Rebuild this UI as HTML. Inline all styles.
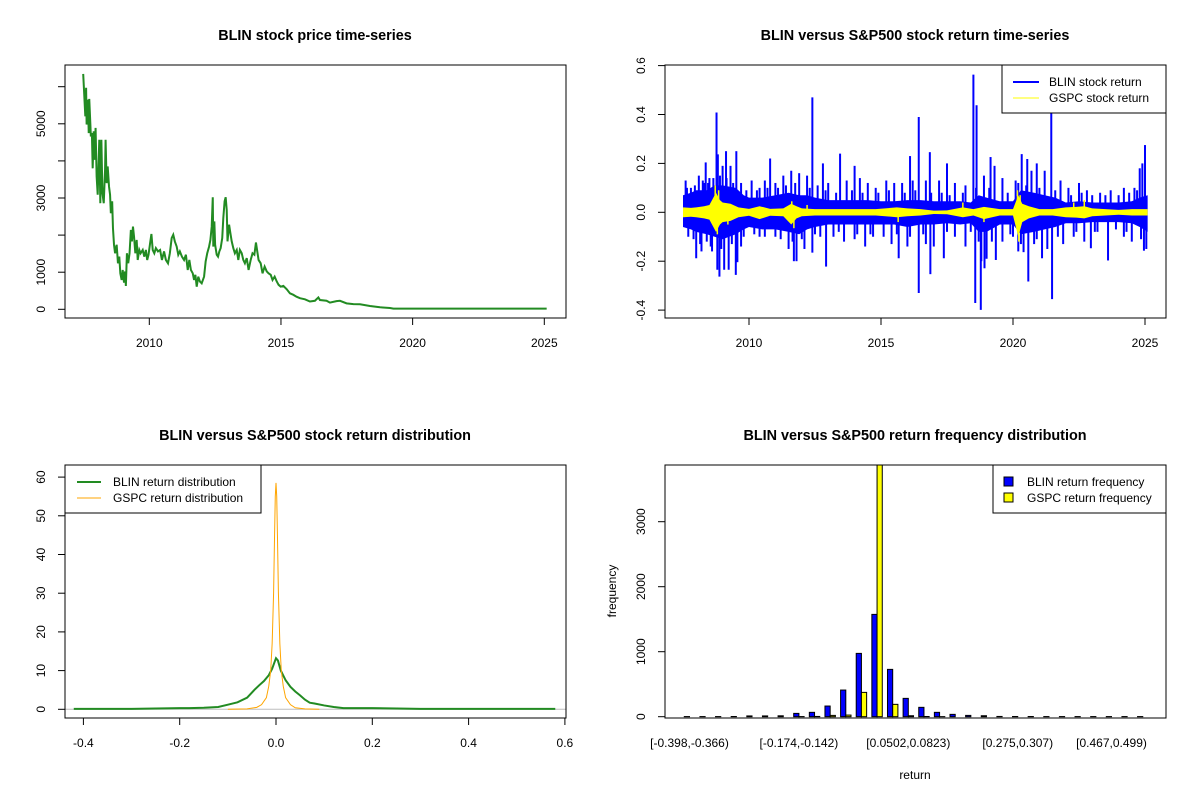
<!DOCTYPE html>
<html><head><meta charset="utf-8"><title>BLIN vs S&amp;P500</title>
<style>
html,body{margin:0;padding:0;background:#fff;}
svg{display:block;font-family:"Liberation Sans",Arial,sans-serif;}
</style></head>
<body>
<svg id="chart" width="1200" height="800" viewBox="0 0 1200 800" xmlns="http://www.w3.org/2000/svg">
<defs>
<clipPath id="clip1"><rect x="65" y="65" width="501" height="253"/></clipPath>
<clipPath id="clip2"><rect x="665" y="65" width="501" height="253"/></clipPath>
<clipPath id="clip3"><rect x="65" y="465" width="501" height="253"/></clipPath>
<clipPath id="clip4"><rect x="665" y="465" width="501" height="253"/></clipPath>
</defs>
<rect width="1200" height="800" fill="#fff"/>
<text x="315" y="40" text-anchor="middle" font-size="14.4" font-weight="bold">BLIN stock price time-series</text>
<text x="915" y="40" text-anchor="middle" font-size="14.4" font-weight="bold">BLIN versus S&amp;P500 stock return time-series</text>
<text x="315" y="440" text-anchor="middle" font-size="14.4" font-weight="bold">BLIN versus S&amp;P500 stock return distribution</text>
<text x="915" y="440" text-anchor="middle" font-size="14.4" font-weight="bold">BLIN versus S&amp;P500 return frequency distribution</text>
<g id="p1"></g>
<g id="p2"></g>
<g id="p3"></g>
<g id="p4"></g>
</svg>
<script>
// ---------- Panel 1 data: BLIN price ----------
const priceYears = [2007.49,2007.52,2007.57,2007.6,2007.62,2007.67,2007.7,2007.72,2007.76,2007.78,2007.82,2007.85,2007.89,2007.92,2007.96,2008.0,2008.04,2008.1,2008.14,2008.18,2008.22,2008.27,2008.32,2008.34,2008.38,2008.42,2008.47,2008.51,2008.54,2008.59,2008.62,2008.66,2008.7,2008.76,2008.81,2008.86,2008.9,2008.95,2008.99,2009.04,2009.08,2009.11,2009.15,2009.2,2009.25,2009.3,2009.34,2009.38,2009.42,2009.47,2009.52,2009.56,2009.62,2009.67,2009.75,2009.81,2009.87,2009.92,2009.97,2010.03,2010.08,2010.13,2010.19,2010.25,2010.33,2010.41,2010.48,2010.56,2010.63,2010.71,2010.78,2010.85,2010.91,2010.97,2011.04,2011.1,2011.16,2011.24,2011.32,2011.39,2011.46,2011.52,2011.58,2011.65,2011.7,2011.75,2011.8,2011.86,2011.92,2011.99,2012.08,2012.14,2012.2,2012.27,2012.32,2012.37,2012.41,2012.43,2012.47,2012.5,2012.56,2012.61,2012.66,2012.71,2012.77,2012.81,2012.86,2012.9,2012.94,2012.97,2013.03,2013.08,2013.13,2013.19,2013.25,2013.32,2013.38,2013.44,2013.51,2013.57,2013.63,2013.7,2013.77,2013.85,2013.92,2013.99,2014.05,2014.1,2014.15,2014.23,2014.3,2014.38,2014.46,2014.53,2014.61,2014.68,2014.76,2014.84,2014.91,2014.99,2015.09,2015.22,2015.34,2015.47,2015.59,2015.72,2015.91,2016.1,2016.29,2016.42,2016.48,2016.73,2016.86,2017.11,2017.24,2017.49,2017.75,2018.0,2018.38,2018.76,2019.14,2019.27,2020.53,2025.09];
const priceValues = [6345,5920,5200,5970,4980,5650,4750,5670,5020,4660,4750,3800,4800,4030,4890,3580,3090,4570,2860,4570,3130,2860,3760,4570,3400,3850,3310,3090,2590,2910,2190,1740,1510,1740,1240,1420,970,790,1060,720,1020,630,1510,1240,1510,2140,1830,2230,1960,1510,1870,1330,1600,1510,1600,1420,1600,1330,1470,1780,2030,1600,1510,1650,1560,1600,1330,1560,1330,1240,1510,1920,2010,1830,1690,1470,1560,1420,1330,1470,1060,1330,1060,970,790,930,610,880,750,700,880,1290,1510,1690,1870,2230,3020,1690,2370,1740,1470,1420,1560,1650,1920,2460,2910,3020,2680,1830,2280,2050,1830,1650,1510,1600,1330,1600,1510,1330,1240,1380,1060,1330,1510,1470,1800,1560,1330,1240,970,1150,1020,970,930,790,880,750,660,610,630,540,430,390,340,300,270,210,230,320,250,230,180,220,230,160,140,135,90,55,36,18,18,18];
const priceTicks = [0,1000,2000,3000,4000,5000,6000];
const priceTickLabels = ["0","1000","","3000","","5000",""];
const yearTicks = [2010,2015,2020,2025];
const yearTickLabels = ["2010","2015","2020","2025"];

// ---------- Panel 2 data: returns ----------
const blinCoreYears = [2007.5,2007.8,2008.0,2008.4,2008.7,2009.0,2009.5,2009.8,2010.0,2010.5,2011.0,2011.5,2011.9,2012.2,2012.5,2013.0,2013.5,2014.0,2014.5,2015.0,2015.5,2016.0,2016.5,2017.0,2017.5,2018.0,2018.4,2018.7,2019.0,2019.5,2020.0,2020.3,2020.8,2021.2,2021.6,2022.0,2022.5,2023.0,2023.5,2024.0,2024.5,2024.8,2025.1];
const blinCoreUpper = [0.07,0.08,0.09,0.09,0.11,0.11,0.1,0.07,0.06,0.06,0.07,0.08,0.07,0.07,0.06,0.05,0.05,0.05,0.05,0.045,0.045,0.05,0.05,0.045,0.045,0.045,0.04,0.07,0.06,0.045,0.045,0.09,0.08,0.07,0.06,0.04,0.045,0.04,0.04,0.04,0.045,0.06,0.07];
const blinCoreLower = [-0.06,-0.07,-0.08,-0.09,-0.1,-0.11,-0.09,-0.07,-0.06,-0.07,-0.07,-0.08,-0.09,-0.07,-0.06,-0.05,-0.05,-0.05,-0.05,-0.05,-0.05,-0.06,-0.05,-0.05,-0.045,-0.05,-0.045,-0.08,-0.08,-0.05,-0.05,-0.09,-0.08,-0.07,-0.06,-0.045,-0.045,-0.04,-0.04,-0.04,-0.045,-0.06,-0.08];
const blinSpikeYears = [2008.77,2008.82,2009.13,2009.52,2008.36,2010.8,2012.4,2012.8,2013.45,2014.0,2016.1,2016.43,2016.85,2017.5,2018.5,2018.62,2019.15,2020.33,2020.54,2021.45,2025.0,2024.9,
2007.6,2007.8,2008.1,2008.3,2008.5,2008.65,2009.0,2009.3,2009.7,2010.1,2010.4,2010.6,2011.0,2011.3,2011.6,2011.9,2012.2,2012.6,2013.0,2013.7,2014.2,2014.5,2014.8,2015.2,2015.5,2015.8,2016.2,2016.7,2017.2,2017.8,2018.2,2018.9,2019.3,2019.6,2020.1,2020.7,2020.9,2021.2,2021.8,2022.1,2022.5,2022.8,2023.3,2023.7,2024.2,2024.6,2024.8,
2008.88,2008.8,2009.06,2009.23,2009.5,2009.56,2008.0,2011.7,2012.4,2012.92,2015.67,2016.43,2016.87,2017.38,2018.57,2018.78,2018.92,2019.35,2020.58,2020.4,2021.1,2021.48,2022.95,2023.6,2024.96,
2007.7,2008.2,2008.4,2008.6,2009.7,2010.2,2010.6,2011.2,2011.5,2011.8,2012.1,2012.7,2013.2,2013.6,2014.0,2014.4,2014.7,2015.1,2015.4,2016.0,2016.7,2017.0,2017.8,2018.2,2018.8,2019.0,2019.6,2020.0,2020.2,2020.8,2021.3,2021.9,2022.3,2022.7,2023.2,2024.2,2024.5,2025.05,
2007.65,2007.95,2008.25,2008.45,2008.9,2009.15,2009.4,2009.9,2010.3,2010.7,2011.1,2011.4,2011.75,2012.3,2012.9,2013.3,2013.9,2014.3,2014.9,2015.3,2015.9,2016.3,2016.9,2017.3,2017.6,2018.1,2018.6,2019.1,2019.8,2020.2,2020.5,2021.0,2021.6,2022.2,2022.6,2023.0,2023.5,2024.0,2024.4,2024.7,
2007.9,2008.15,2008.55,2008.95,2009.35,2009.8,2010.4,2011.0,2011.65,2012.0,2012.5,2013.4,2014.1,2014.6,2015.6,2016.1,2016.6,2017.5,2018.4,2018.7,2019.2,2019.9,2020.3,2020.9,2021.7,2022.4,2023.1,2023.9,2024.3,2024.85];
const blinSpikeValues = [0.408,0.237,0.25,0.25,0.204,0.22,0.47,0.2,0.24,0.19,0.23,0.39,0.246,0.2,0.563,0.438,0.226,0.238,0.218,0.41,0.275,0.2,
0.13,0.1,0.15,0.12,0.14,0.14,0.19,0.19,0.12,0.13,0.1,0.13,0.12,0.15,0.17,0.16,0.15,0.11,0.12,0.13,0.14,0.12,0.1,0.13,0.12,0.12,0.13,0.13,0.13,0.12,0.11,0.15,0.19,0.14,0.13,0.17,0.2,0.17,0.13,0.1,0.12,0.09,0.08,0.09,0.1,0.1,0.18,
-0.263,-0.235,-0.235,-0.235,-0.256,-0.204,-0.188,-0.2,-0.165,-0.222,-0.188,-0.33,-0.253,-0.188,-0.371,-0.399,-0.229,-0.195,-0.283,-0.163,-0.188,-0.355,-0.147,-0.197,-0.157,
-0.1,-0.16,-0.12,-0.16,-0.14,-0.09,-0.1,-0.11,-0.15,-0.2,-0.15,-0.1,-0.1,-0.12,-0.11,-0.14,-0.1,-0.1,-0.13,-0.14,-0.13,-0.14,-0.1,-0.14,-0.2,-0.19,-0.12,-0.1,-0.16,-0.13,-0.15,-0.13,-0.1,-0.12,-0.08,-0.1,-0.12,-0.15,
0.1,0.11,0.13,0.12,0.15,0.14,0.12,0.09,0.09,0.1,0.1,0.11,0.12,0.1,0.09,0.08,0.09,0.08,0.08,0.09,0.08,0.09,0.08,0.08,0.07,0.08,0.1,0.1,0.08,0.12,0.11,0.1,0.09,0.07,0.08,0.07,0.07,0.07,0.08,0.09,
-0.11,-0.13,-0.14,-0.15,-0.13,-0.1,-0.1,-0.1,-0.12,-0.11,-0.09,-0.08,-0.09,-0.09,-0.09,-0.1,-0.09,-0.08,-0.08,-0.12,-0.12,-0.09,-0.13,-0.11,-0.1,-0.08,-0.08,-0.07,-0.08,-0.11];
const gspcYears = [2007.5,2007.8,2008.0,2008.3,2008.5,2008.75,2008.9,2009.0,2009.3,2009.6,2010.0,2010.4,2010.8,2011.3,2011.6,2011.8,2012.0,2012.5,2013.0,2014.0,2014.8,2015.6,2016.0,2016.5,2017.0,2017.5,2018.1,2018.5,2018.9,2019.5,2020.0,2020.2,2020.35,2020.6,2021.0,2021.5,2022.0,2022.4,2022.7,2023.0,2023.5,2024.0,2024.5,2025.1];
const gspcUpper = [0.02,0.018,0.02,0.025,0.03,0.08,0.05,0.04,0.035,0.02,0.014,0.025,0.014,0.016,0.035,0.025,0.016,0.013,0.013,0.013,0.013,0.02,0.016,0.013,0.007,0.008,0.02,0.013,0.022,0.013,0.013,0.07,0.035,0.025,0.013,0.013,0.02,0.022,0.025,0.016,0.013,0.01,0.013,0.013];
const gspcLower = [-0.02,-0.018,-0.02,-0.025,-0.03,-0.08,-0.05,-0.04,-0.035,-0.02,-0.014,-0.028,-0.014,-0.016,-0.05,-0.025,-0.016,-0.013,-0.013,-0.013,-0.013,-0.02,-0.016,-0.013,-0.007,-0.008,-0.02,-0.013,-0.028,-0.013,-0.013,-0.1,-0.04,-0.025,-0.013,-0.013,-0.02,-0.022,-0.025,-0.016,-0.013,-0.01,-0.013,-0.013];
const gspcSpikeYears = [2008.72,2008.8,2008.85,2009.2,2011.62,2011.7,2012.2,2015.65,2018.1,2018.9,2020.17,2020.22,2020.27,2022.3,2022.7];
const gspcSpikeValues = [0.11,-0.09,0.09,-0.05,0.045,-0.065,0.03,-0.04,0.04,-0.04,0.09,-0.12,0.07,0.04,0.05];
const returnTicks = [-0.4,-0.2,0,0.2,0.4,0.6];
const returnTickLabels = ["-0.4","-0.2","0.0","0.2","0.4","0.6"];

// ---------- Panel 3 data: densities ----------
const blinDensX = [-0.42,-0.3,-0.2,-0.18,-0.15,-0.12,-0.1,-0.08,-0.06,-0.045,-0.035,-0.025,-0.015,-0.008,-0.003,0,0.004,0.01,0.02,0.03,0.04,0.05,0.06,0.07,0.08,0.1,0.12,0.14,0.2,0.3,0.58];
const blinDensY = [0.1,0.1,0.3,0.3,0.4,0.6,1.2,1.8,3.0,5.0,6.2,7.3,8.8,10.5,12.2,13.2,12.6,10.0,7.5,5.8,4.6,3.6,2.5,1.7,1.5,1.0,0.6,0.3,0.3,0.1,0.1];
const gspcDensX = [-0.1,-0.06,-0.04,-0.03,-0.02,-0.015,-0.011,-0.008,-0.005,-0.003,-0.0015,0,0.0015,0.003,0.005,0.008,0.011,0.015,0.02,0.03,0.04,0.06,0.09];
const gspcDensY = [0,0.1,0.5,1.2,3,6,10,17,30,45,55,58.5,55,45,30,17,10,6,3,1.2,0.4,0.1,0];
const densXTicks = [-0.4,-0.2,0,0.2,0.4,0.6];
const densXTickLabels = ["-0.4","-0.2","0.0","0.2","0.4","0.6"];
const densYTicks = [0,10,20,30,40,50,60];
const densYTickLabels = ["0","10","20","30","40","50","60"];

// ---------- Panel 4 data: histogram ----------
const binEdges = ["-0.398","-0.366","-0.334","-0.302","-0.27","-0.238","-0.206","-0.174","-0.142","-0.11","-0.0779","-0.0459","-0.0138","0.0182","0.0502","0.0823","0.114","0.146","0.178","0.21","0.243","0.275","0.307","0.339","0.371","0.403","0.435","0.467","0.499","0.531","0.563"];
const blinFreq = [2,2,2,3,12,12,14,51,67,164,410,974,1574,728,282,144,67,36,20,15,4,3,3,2,2,2,2,2,2,2];
const gspcFreq = [0,0,0,0,0,0,0,2,4,20,25,374,3900,190,15,3,1,0,0,0,0,0,0,0,0,0,0,0,0,0];
const shownBinLabels = [0,7,14,21,27];
const freqTicks = [0,1000,2000,3000];
const freqTickLabels = ["0","1000","2000","3000"];

const NS = "http://www.w3.org/2000/svg";
function mk(tag, attrs, parent){
  const el = document.createElementNS(NS, tag);
  for (const k in attrs) el.setAttribute(k, attrs[k]);
  parent.appendChild(el);
  return el;
}
function lin(d0,d1,r0,r1){ return v => r0 + (v-d0)*(r1-r0)/(d1-d0); }

function drawBox(g, x0,y0,x1,y1, name){
  const r = mk('rect',{x:x0,y:y0,width:x1-x0,height:y1-y0,fill:'none',stroke:'#000','stroke-width':1},g);
  
  
}
function xAxis(g, ticks, labels, fx, yb, name){
  ticks.forEach((t,i)=>{
    const x = fx(t);
    const tk = mk('line',{x1:x,x2:x,y1:yb,y2:yb+7,stroke:'#000'},g);
    
    
    if (labels[i]) {
      const tx = mk('text',{x:x,y:yb+25,'text-anchor':'middle','dominant-baseline':'central','font-size':12},g);
      tx.textContent = labels[i];
      
      
    }
  });
}
function yAxis(g, ticks, labels, fy, xl, name){
  ticks.forEach((t,i)=>{
    const y = fy(t);
    const tk = mk('line',{x1:xl-7,x2:xl,y1:y,y2:y,stroke:'#000'},g);
    
    
    if (labels[i]) {
      const tx = mk('text',{x:xl-24,y:y,'text-anchor':'middle','dominant-baseline':'central','font-size':12,transform:'rotate(-90 '+(xl-24)+' '+y+')'},g);
      tx.textContent = labels[i];
      
      
    }
  });
}
function pathFrom(xs, ys, fx, fy){
  return xs.map((x,i)=>(i?'L':'M')+fx(x).toFixed(2)+' '+fy(ys[i]).toFixed(2)).join(' ');
}

// ---- Panel 1 ----
(function(){
  const g = document.getElementById('p1');
  const fx = lin(2010,2025,149.3,544.3), fy = lin(0,1000,309.3,272.2);
  const p = mk('path',{d:pathFrom(priceYears,priceValues,fx,fy),fill:'none',stroke:'#228B22','stroke-width':2,'stroke-linejoin':'miter','clip-path':'url(#clip1)'},g);
  
  
  drawBox(g,65,65,566,318,'price-plot-frame');
  xAxis(g, yearTicks, yearTickLabels, fx, 318, 'price-x-axis');
  yAxis(g, priceTicks, priceTickLabels, fy, 65, 'price-y-axis');
})();

// ---- Panel 2 ----
(function(){
  const g = document.getElementById('p2');
  const fx = lin(2010,2025,749,1145), fy = lin(0,0.2,212.3,163.4);
  const cg = mk('g',{'clip-path':'url(#clip2)'},g);
  const core = blinCoreYears.map((y,i)=>fx(y).toFixed(2)+','+fy(blinCoreUpper[i]).toFixed(2))
    .concat(blinCoreYears.slice().reverse().map((y,j)=>{const i=blinCoreYears.length-1-j;return fx(y).toFixed(2)+','+fy(blinCoreLower[i]).toFixed(2);}));
  const poly = mk('polygon',{points:core.join(' '),fill:'#0000FF',stroke:'none'},cg);
  
  
  blinSpikeYears.forEach((yr,i)=>{
    const l = mk('line',{x1:fx(yr),x2:fx(yr),y1:fy(0),y2:fy(blinSpikeValues[i]),stroke:'#0000FF','stroke-width':2},cg);
    
    
  });
  const gp = gspcYears.map((y,i)=>fx(y).toFixed(2)+','+fy(gspcUpper[i]).toFixed(2))
    .concat(gspcYears.slice().reverse().map((y,j)=>{const i=gspcYears.length-1-j;return fx(y).toFixed(2)+','+fy(gspcLower[i]).toFixed(2);}));
  const gpoly = mk('polygon',{points:gp.join(' '),fill:'#FFFF00',stroke:'none'},cg);
  
  
  gspcSpikeYears.forEach((yr,i)=>{
    const l = mk('line',{x1:fx(yr),x2:fx(yr),y1:fy(0),y2:fy(gspcSpikeValues[i]),stroke:'#FFFF00','stroke-width':1.5},cg);
    
    
  });
  drawBox(g,665,65,1166,318,'return-plot-frame');
  xAxis(g, yearTicks, yearTickLabels, fx, 318, 'return-x-axis');
  yAxis(g, returnTicks, returnTickLabels, fy, 665, 'return-y-axis');
  const lg = mk('g',{},g);
  
  
  mk('rect',{x:1002,y:65,width:164,height:48,fill:'#fff',stroke:'#000'},lg);
  mk('line',{x1:1013,x2:1039,y1:82,y2:82,stroke:'#0000FF','stroke-width':2},lg);
  mk('line',{x1:1013,x2:1039,y1:98,y2:98,stroke:'#FFFF00','stroke-width':1},lg);
  const t1 = mk('text',{x:1049,y:82,'dominant-baseline':'central','font-size':12},lg); t1.textContent='BLIN stock return';
  
  const t2 = mk('text',{x:1049,y:98,'dominant-baseline':'central','font-size':12},lg); t2.textContent='GSPC stock return';
  
})();

// ---- Panel 3 ----
(function(){
  const g = document.getElementById('p3');
  const fx = lin(0,0.2,276,372.3), fy = lin(0,10,709.3,670.6);
  const cg = mk('g',{'clip-path':'url(#clip3)'},g);
  const z = mk('line',{x1:65,x2:566,y1:fy(0),y2:fy(0),stroke:'#BEBEBE'},cg);
  
  
  const gl = mk('path',{d:pathFrom(blinDensX,blinDensY,fx,fy),fill:'none',stroke:'#228B22','stroke-width':2},cg);
  
  
  const ol = mk('path',{d:pathFrom(gspcDensX,gspcDensY,fx,fy),fill:'none',stroke:'#FFA500','stroke-width':1},cg);
  
  
  drawBox(g,65,465,566,718,'density-plot-frame');
  xAxis(g, densXTicks, densXTickLabels, fx, 718, 'density-x-axis');
  yAxis(g, densYTicks, densYTickLabels, fy, 65, 'density-y-axis');
  const lg = mk('g',{},g);
  
  
  mk('rect',{x:65,y:465,width:196,height:48,fill:'#fff',stroke:'#000'},lg);
  mk('line',{x1:77,x2:101,y1:482,y2:482,stroke:'#228B22','stroke-width':2},lg);
  mk('line',{x1:77,x2:101,y1:498,y2:498,stroke:'#FFA500','stroke-width':1},lg);
  const t1 = mk('text',{x:113,y:482,'dominant-baseline':'central','font-size':12},lg); t1.textContent='BLIN return distribution';
  
  const t2 = mk('text',{x:113,y:498,'dominant-baseline':'central','font-size':12},lg); t2.textContent='GSPC return distribution';
  
})();

// ---- Panel 4 ----
(function(){
  const g = document.getElementById('p4');
  const fy = lin(0,1000,716.7,651.7);
  const center = k => 689.5 + 15.63*k;
  const u = 5.21;
  const cg = mk('g',{'clip-path':'url(#clip4)'},g);
  blinFreq.forEach((v,k)=>{
    const c = center(k);
    const yb = fy(0), yt = fy(v);
    const r = mk('rect',{x:c-u,y:Math.min(yt,yb),width:u,height:Math.abs(yb-yt),fill:'#0000FF',stroke:'#000','stroke-width':1},cg);
    
    
  });
  gspcFreq.forEach((v,k)=>{
    const c = center(k);
    const yb = fy(0), yt = fy(v);
    const r = mk('rect',{x:c,y:Math.min(yt,yb),width:u,height:Math.abs(yb-yt),fill:'#FFFF00',stroke:'#000','stroke-width':1},cg);
    
    
  });
  drawBox(g,665,465,1166,718,'histogram-plot-frame');
  yAxis(g, freqTicks, freqTickLabels, fy, 665, 'frequency-y-axis');
  shownBinLabels.forEach(k=>{
    const t = mk('text',{x:center(k),y:743,'text-anchor':'middle','dominant-baseline':'central','font-size':12},g);
    t.textContent = '['+binEdges[k]+','+binEdges[k+1]+')';
    
    
  });
  const xl = mk('text',{x:915,y:775,'text-anchor':'middle','dominant-baseline':'central','font-size':12},g);
  xl.textContent = 'return';
  
  
  const yl = mk('text',{x:612,y:591,'text-anchor':'middle','dominant-baseline':'central','font-size':12,transform:'rotate(-90 612 591)'},g);
  yl.textContent = 'frequency';
  
  
  const lg = mk('g',{},g);
  
  
  mk('rect',{x:993,y:465,width:173,height:48,fill:'#fff',stroke:'#000'},lg);
  mk('rect',{x:1004,y:477,width:9,height:9,fill:'#0000FF',stroke:'#000'},lg);
  mk('rect',{x:1004,y:493,width:9,height:9,fill:'#FFFF00',stroke:'#000'},lg);
  const t1 = mk('text',{x:1027,y:482,'dominant-baseline':'central','font-size':12},lg); t1.textContent='BLIN return frequency';
  
  const t2 = mk('text',{x:1027,y:498,'dominant-baseline':'central','font-size':12},lg); t2.textContent='GSPC return frequency';
  
})();
</script>
</body></html>
